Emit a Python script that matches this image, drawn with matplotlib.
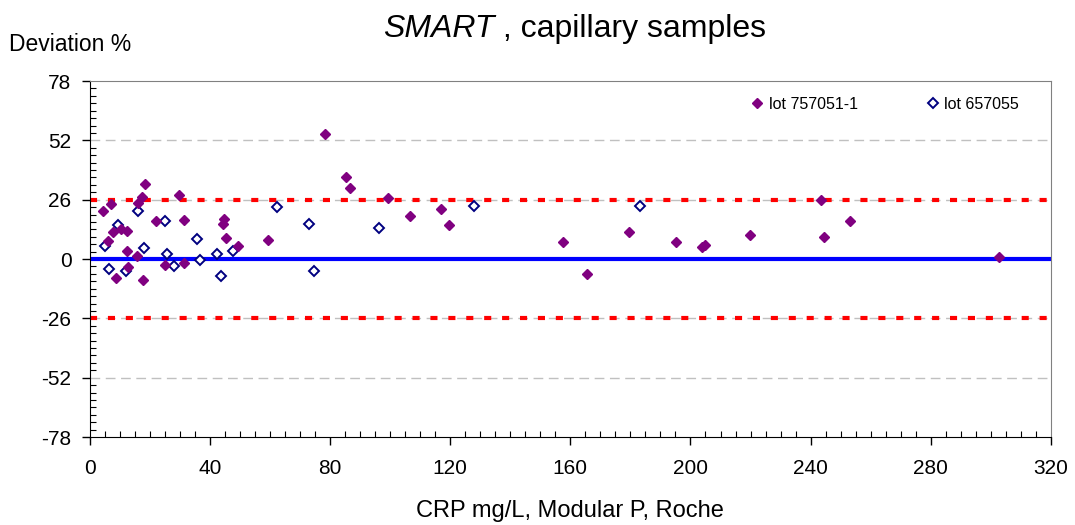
import numpy as np
import matplotlib.pyplot as plt

plt.rcParams['font.family'] = ['Liberation Sans', 'DejaVu Sans']
plt.rcParams['axes.unicode_minus'] = False

# lot 757051-1 (filled diamonds): CRP mg/L vs deviation %
crp_a = [4.5, 7.3, 6.2, 7.8, 10.6, 12.3, 12.3, 8.7, 12.9, 15.9, 16.0, 17.5, 18.5,
         17.7, 22.0, 25.2, 29.7, 31.3, 31.3, 44.4, 44.8, 45.4, 49.4, 59.4, 78.2,
         85.2, 86.8, 99.4, 106.8, 116.9, 119.5, 157.7, 165.4, 179.4, 195.2,
         204.0, 204.7, 219.7, 243.5, 244.4, 253.1, 302.6]
dev_a = [21.2, 24.1, 8.0, 12.0, 13.1, 12.4, 3.6, -8.3, -3.6, 1.4, 24.5, 27.3, 32.7,
         -9.1, 16.8, -2.6, 28.2, 17.2, -1.8, 15.3, 17.5, 9.3, 5.6, 8.2, 54.6,
         35.9, 31.2, 26.7, 18.7, 22.0, 14.8, 7.3, -6.6, 12.0, 7.3,
         5.1, 6.2, 10.7, 26.0, 9.5, 16.7, 0.7]

# lot 657055 (open diamonds)
crp_b = [5.1, 6.5, 9.5, 12.1, 16.2, 18.2, 25.2, 25.7, 28.2, 35.7, 36.8, 42.4,
         43.8, 47.9, 62.4, 73.1, 74.6, 96.3, 128.1, 183.1]
dev_b = [5.6, -4.4, 14.9, -5.4, 21.2, 4.7, 16.7, 2.3, -3.2, 8.8, -0.3, 2.2,
         -7.3, 3.6, 22.6, 15.5, -5.1, 13.4, 23.4, 23.2]

limit = 26
y_ticks = [-78, -52, -26, 0, 26, 52, 78]
x_ticks = [0, 40, 80, 120, 160, 200, 240, 280, 320]

fig = plt.figure(figsize=(10.75, 5.25), dpi=100)
ax = fig.add_axes([0.0833, 0.1676, 0.8944, 0.6781])

for y in [-52, -26, 26, 52]:
    ax.axhline(y, color='#c0c0c0', lw=1.0, dashes=(7, 4), zorder=1)
for y in [-limit, limit]:
    ax.axhline(y, color='#ff0000', lw=3, dashes=(1.7, 2.6), zorder=2)
ax.axhline(0, color='#0000ff', lw=3, zorder=2)

ax.plot(crp_a, dev_a, ls='none', marker='D', ms=5.4, color='#800080',
        mec='#800080', label='lot 757051-1', zorder=4)
ax.plot(crp_b, dev_b, ls='none', marker='D', ms=4.9, mfc='white',
        mec='#000080', mew=1.4, label='lot 657055', zorder=3)

ax.set_xlim(0, 320)
ax.set_ylim(-78, 78)
ax.set_xticks(x_ticks)
ax.set_yticks(y_ticks)
ax.set_xticks(np.arange(0, 321, 5), minor=True)
ax.set_yticks(np.arange(-78, 78.1, 3.25), minor=True)
ax.tick_params(which='major', direction='out', length=6, width=1, labelsize=15)
ax.tick_params(axis='x', which='major', pad=10)
ax.tick_params(axis='y', which='major', pad=7)
ax.tick_params(which='minor', direction='in', length=4, width=0.8)

for s in ['top', 'right']:
    ax.spines[s].set_color('#808080')
for s in ['left', 'bottom']:
    ax.spines[s].set_color('black')

ax.set_xlabel('CRP mg/L, Modular P, Roche', fontsize=17, labelpad=16)
fig.text(0.008, 0.915, 'Deviation %', fontsize=16.5, ha='left', va='center')

t1 = fig.text(0.356, 0.944, 'SMART', fontsize=23, style='italic', ha='left', va='center')
ax.annotate(' , capillary samples', xy=(1, 0), xycoords=t1, va='bottom',
            fontsize=23)

ax.legend(loc='upper left', bbox_to_anchor=(0.688, 0.955), ncol=2, frameon=False,
          fontsize=11.5, handlelength=0.8, handletextpad=0.3, columnspacing=4.3,
          borderpad=0, borderaxespad=0)

fig.savefig('out.png', dpi=100)
